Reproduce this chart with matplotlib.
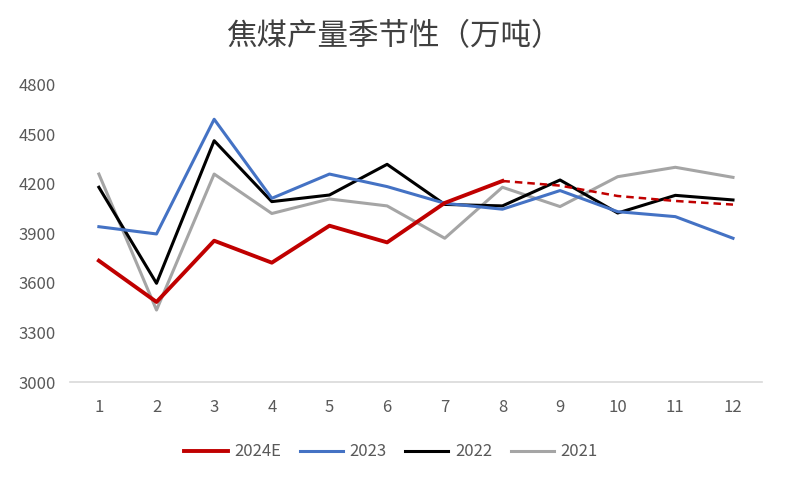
import numpy as np
import matplotlib.pyplot as plt

plt.rcParams['font.family'] = ['Noto Sans CJK SC', 'DejaVu Sans']

months = np.arange(1, 13)
# 2024E: actual for 1-8, estimate (dashed) for 8-12
y2024 = [3735, 3485, 3856, 3723, 3947, 3846, 4085, 4218]
y2024_est = [4218, 4190, 4127, 4097, 4075]
y2023 = [3941, 3897, 4592, 4113, 4260, 4184, 4083, 4047, 4160, 4032, 4002, 3871]
y2022 = [4180, 3598, 4462, 4093, 4133, 4319, 4076, 4067, 4224, 4024, 4131, 4103]
y2021 = [4260, 3436, 4260, 4021, 4109, 4067, 3871, 4180, 4063, 4244, 4301, 4240]

fig = plt.figure(figsize=(7.87, 4.87), dpi=100)
ax = fig.add_axes([0.089, 0.2156, 0.879, 0.61])

ax.plot(months, y2021, color='#A5A5A5', lw=2.2, label='2021')
ax.plot(months, y2022, color='#000000', lw=2.2, label='2022')
ax.plot(months, y2023, color='#4472C4', lw=2.2, label='2023')
ax.plot(months[7:], y2024_est, color='#C00000', lw=1.8, ls=(0, (3, 2)))
ax.plot(months[:8], y2024, color='#C00000', lw=2.8, label='2024E')

ax.set_xlim(0.5, 12.5)
ax.set_ylim(3000, 4800)
ax.set_xticks(months)
ax.set_yticks(np.arange(3000, 4801, 300))
ax.tick_params(length=0, labelsize=12, colors='#595959')
ax.tick_params(axis='y', pad=10)
ax.tick_params(axis='x', pad=12)
for s in ['top', 'right', 'left']:
    ax.spines[s].set_visible(False)
ax.spines['bottom'].set_color('#D9D9D9')
ax.spines['bottom'].set_linewidth(1.2)

handles, labels = ax.get_legend_handles_labels()
order = [3, 2, 1, 0]
fig.legend([handles[i] for i in order], [labels[i] for i in order],
           loc='center', bbox_to_anchor=(0.497, 0.072), ncol=4, frameon=False,
           fontsize=12, labelcolor='#595959', handlelength=2.6, columnspacing=1.1,
           handletextpad=0.4)

fig.suptitle('焦煤产量季节性（万吨）', x=0.5, y=0.924, va='center',
             fontsize=22, color='#404040')

fig.savefig('out.png')
